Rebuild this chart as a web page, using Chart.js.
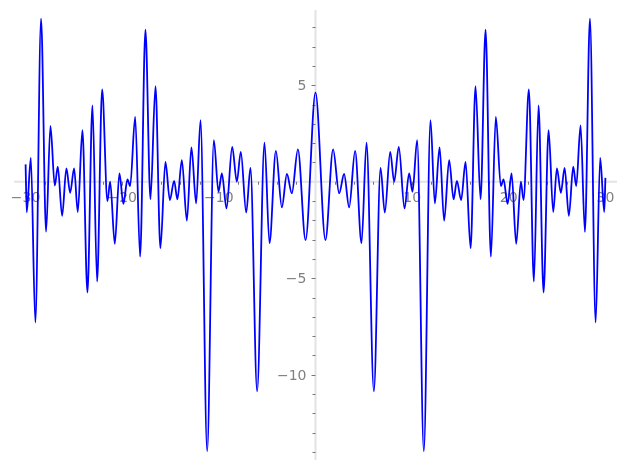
<!DOCTYPE html>
<html lang="en">
<head>
  <meta charset="UTF-8">
  <title>Plot</title>
  <script src="https://cdn.jsdelivr.net/npm/chart.js"></script>
  <style>
    body { margin: 0; background: #fff; }
    #wrap { width: 627px; height: 470px; position: relative; }
  </style>
</head>
<body>
  <div id="wrap"><canvas id="graph"></canvas></div>

  <script>
    // nilai x dan y dibaca dari gambar (titik puncak dan lembah)
    const xValues = [
      -30, -29.88, -29.46, -28.99, -28.40, -27.88, -27.43, -26.98, -26.67, -26.22,
      -25.78, -25.39, -24.98, -24.60, -24.12, -23.60, -23.08, -22.60, -22.08, -21.53,
      -21.25, -20.77, -20.29, -19.88, -19.46, -19.18, -18.66, -18.15, -17.60, -17.08,
      -16.56, -16.05, -15.53, -15.07, -14.63, -14.29, -13.83, -13.31, -12.84, -12.35,
      -11.90, -11.21, -10.52, -10.04, -9.69, -9.21, -8.62, -8.14, -7.73, -7.17,
      -6.73, -6.04, -5.28, -4.76, -4.10, -3.48, -2.96, -2.45, -1.82, -1.03,
      0,
      1.03, 1.82, 2.45, 2.96, 3.48, 4.10, 4.76, 5.28, 6.04, 6.73,
      7.17, 7.73, 8.14, 8.62, 9.21, 9.69, 10.04, 10.52, 11.21, 11.90,
      12.35, 12.84, 13.31, 13.83, 14.29, 14.63, 15.07, 15.53, 16.05, 16.56,
      17.08, 17.60, 18.15, 18.66, 19.18, 19.46, 19.88, 20.29, 20.77, 21.25,
      21.53, 22.08, 22.60, 23.08, 23.60, 24.12, 24.60, 24.98, 25.39, 25.78,
      26.22, 26.67, 26.98, 27.43, 27.88, 28.40, 28.99, 29.46, 29.88, 30
    ];
    const yValues = [
      0.9, -1.58, 1.24, -7.29, 8.45, -2.59, 2.90, -0.2, 0.78, -1.77,
      0.69, -0.57, 0.69, -1.57, 2.67, -5.74, 3.95, -5.17, 4.78, -1.0,
      0.0, -3.22, 0.43, -1.15, 0.12, -0.22, 3.36, -3.88, 7.88, -0.91,
      4.95, -3.45, 1.03, -0.95, 0.05, -0.91, 1.12, -2.02, 1.78, -1.12,
      3.19, -13.97, 2.16, -0.52, 0.43, -1.38, 1.81, 0.0, 1.55, -1.60,
      0.72, -10.86, 2.02, -3.19, 1.60, -1.33, 0.40, -0.60, 1.68, -3.02,
      4.62,
      -3.02, 1.68, -0.60, 0.40, -1.33, 1.60, -3.19, 2.02, -10.86, 0.72,
      -1.60, 1.55, 0.0, 1.81, -1.38, 0.43, -0.52, 2.16, -13.97, 3.19,
      -1.12, 1.78, -2.02, 1.12, -0.91, 0.05, -0.95, 1.03, -3.45, 4.95,
      -0.91, 7.88, -3.88, 3.36, -0.22, 0.12, -1.15, 0.43, -3.22, 0.0,
      -0.95, 4.78, -5.17, 3.95, -5.74, 2.67, -1.57, 0.69, -0.57, 0.72,
      -1.77, 0.78, -0.22, 2.92, -2.60, 8.45, -7.29, 1.24, -1.57, 0.2
    ];

    // label sumbu
    const xTickLabels = [-30, -20, -10, 10, 20, 30];
    const yTickLabels = [5, -5, -10];
    const xMinorStep = 2;
    const yMinorStep = 1;

    const points = xValues.map((x, i) => ({ x: x, y: yValues[i] }));

    function minusSign(v) {
      return v < 0 ? '\u2212' + Math.abs(v) : String(v);
    }

    // menggambar sumbu yang berpotongan di (0,0)
    const crossAxes = {
      id: 'crossAxes',
      beforeDatasetsDraw(chart) {
        const ctx = chart.ctx;
        const xs = chart.scales.x;
        const ys = chart.scales.y;
        const area = chart.chartArea;
        const x0 = xs.getPixelForValue(0);
        const y0 = ys.getPixelForValue(0);

        ctx.save();
        ctx.strokeStyle = '#e3e3e3';
        ctx.lineWidth = 2;
        ctx.beginPath();
        ctx.moveTo(area.left, y0);
        ctx.lineTo(area.right, y0);
        ctx.moveTo(x0, area.top);
        ctx.lineTo(x0, area.bottom);
        ctx.stroke();

        // tick kecil
        ctx.strokeStyle = '#777';
        ctx.lineWidth = 1;
        ctx.beginPath();
        for (let v = -30; v <= 30; v += xMinorStep) {
          if (v === 0) continue;
          const px = Math.round(xs.getPixelForValue(v)) + 0.5;
          const len = v % 10 === 0 ? 4 : 3;
          ctx.moveTo(px, y0);
          ctx.lineTo(px, y0 + len);
        }
        for (let v = Math.ceil(ys.min); v <= ys.max; v += yMinorStep) {
          if (v === 0) continue;
          const py = Math.round(ys.getPixelForValue(v)) + 0.5;
          const len = v % 5 === 0 ? 4 : 3;
          ctx.moveTo(x0, py);
          ctx.lineTo(x0 - len, py);
        }
        ctx.stroke();

        // label
        ctx.fillStyle = '#808080';
        ctx.font = '14px "DejaVu Sans"';
        ctx.textAlign = 'center';
        ctx.textBaseline = 'top';
        xTickLabels.forEach(v => {
          ctx.fillText(minusSign(v), xs.getPixelForValue(v), y0 + 10);
        });
        ctx.textAlign = 'right';
        ctx.textBaseline = 'middle';
        yTickLabels.forEach(v => {
          ctx.fillText(minusSign(v), x0 - 9, ys.getPixelForValue(v) + 1.5);
        });
        ctx.restore();
      }
    };

    const ctx = document.getElementById('graph').getContext('2d');
    new Chart(ctx, {
      type: 'scatter',
      data: {
        datasets: [{
          data: points,
          showLine: true,
          borderColor: '#0000ff',
          borderWidth: 1.8,
          pointRadius: 0,
          cubicInterpolationMode: 'monotone',
          fill: false
        }]
      },
      options: {
        responsive: true,
        maintainAspectRatio: false,
        animation: false,
        layout: { padding: { left: 14, right: 10, top: 10, bottom: 10 } },
        scales: {
          x: { type: 'linear', min: -31.2, max: 31.2, display: false },
          y: { type: 'linear', min: -14.42, max: 8.9, display: false }
        },
        plugins: {
          legend: { display: false },
          tooltip: { enabled: false }
        }
      },
      plugins: [crossAxes]
    });
  </script>
</body>
</html>
